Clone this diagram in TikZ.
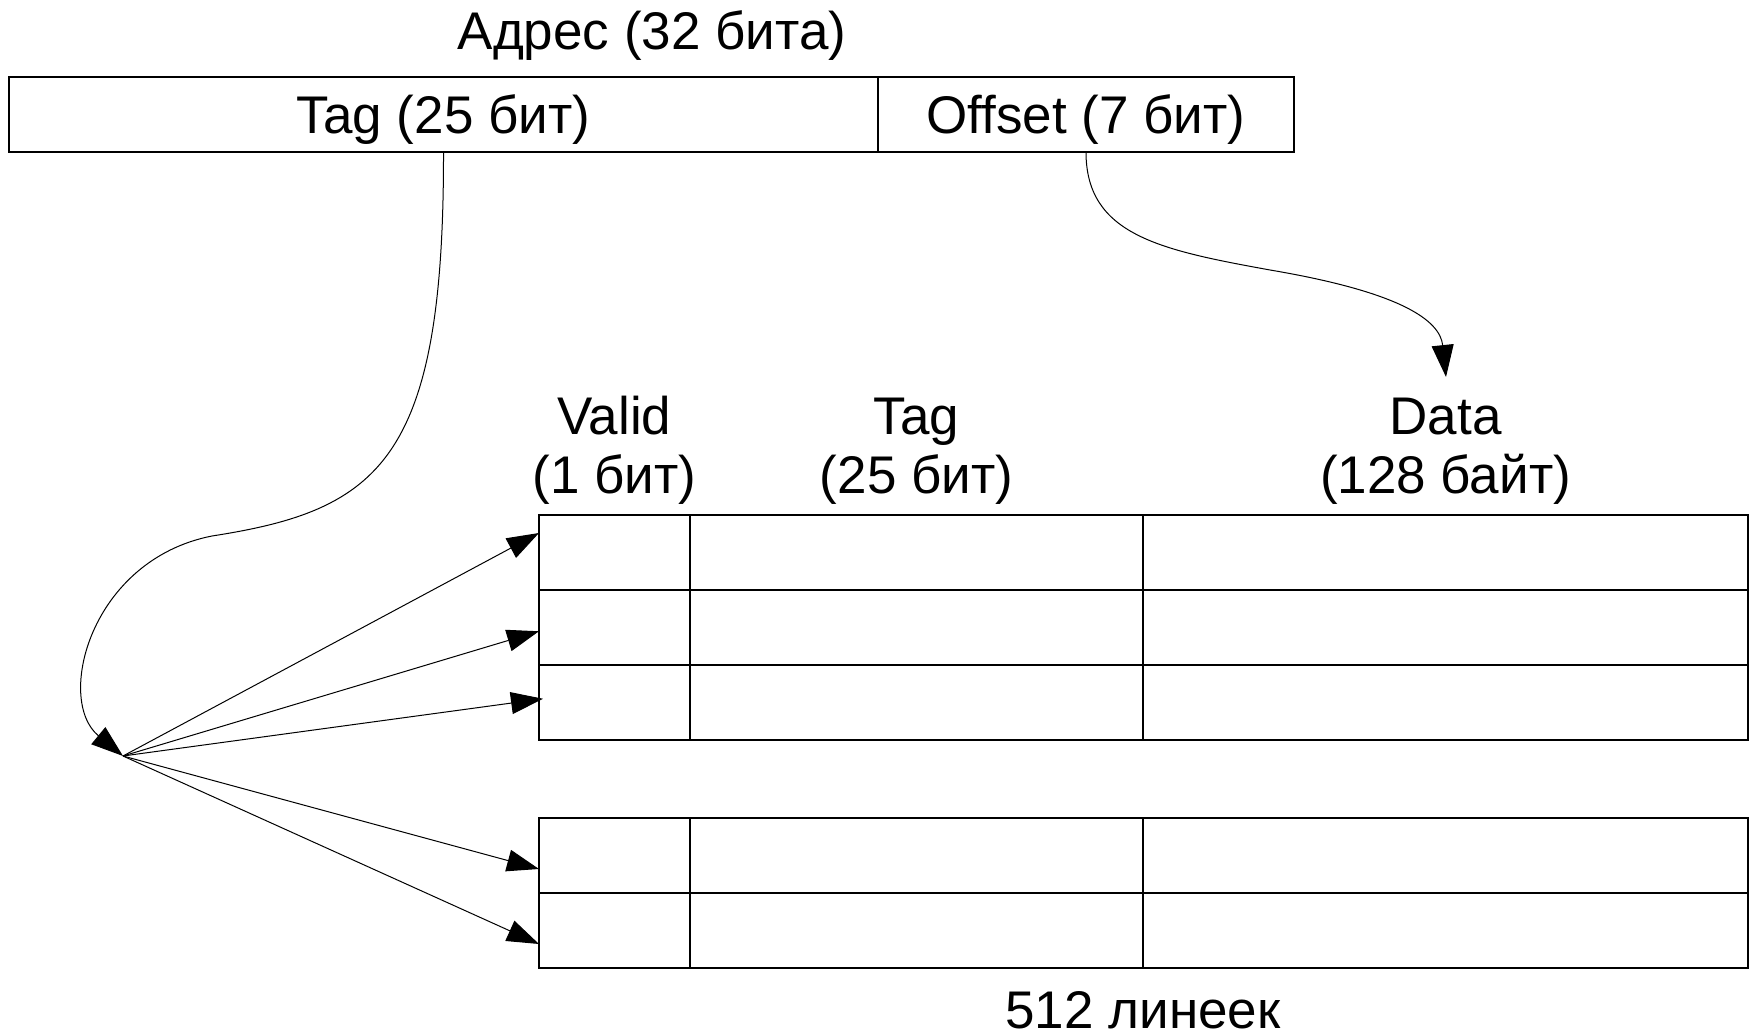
\documentclass[tikz,border=0pt]{standalone}
\usepackage{fontspec}
\setmainfont{Liberation Sans}
\usetikzlibrary{arrows.meta,calc}
\begin{document}
\begin{tikzpicture}[x=0.5pt,y=-0.5pt,
  every node/.style={inner sep=0pt, outer sep=0pt},
  lbl/.style={font=\fontsize{26.5pt}{29.5pt}\selectfont, anchor=base},
  field/.style={draw, line width=0.8pt, minimum height=37.5pt},
  cell/.style={draw, line width=0.8pt, minimum height=37.5pt},
  link/.style={line width=0.5pt, -{Triangle[length=16pt,width=11pt]}},
]
\useasboundingbox (0,0) rectangle (1750,1036);

% address split into tag and offset fields
\node[field, minimum width=434.5pt] (atag) at (443.5,114.5) {};
\node[field, minimum width=208pt] (aoff) at (1086,114.5) {};
\node[lbl] (title) at (652,50) {Адрес (32 бита)};
\node[lbl] (atagt) at (443.5,134) {Tag (25 бит)};
\node[lbl] (aofft) at (1086,134) {Offset (7 бит)};

% cache lines: valid bit, tag, data
\foreach \r/\y in {1/552.5, 2/627.5, 3/702.5, 4/855.5, 5/930.5} {
  \node[cell, minimum width=75.5pt]  (v\r) at (614.5,\y) {};
  \node[cell, minimum width=226.5pt] (t\r) at (916.5,\y) {};
  \node[cell, minimum width=302.5pt] (d\r) at (1445.5,\y) {};
}

% column headers (base anchor sits on the second line)
\node[lbl, align=center] (hv) at (614.5,494) {Valid\\(1 бит)};
\node[lbl, align=center] (ht) at (916.5,494) {Tag\\(25 бит)};
\node[lbl, align=center] (hd) at (1445.5,494) {Data\\(128 байт)};
\node[lbl, text depth=0pt] (cnt) at (1143,1028) {512 линеек};

% tag goes to the comparison point, which fans out to all lines
\coordinate (hub) at (123,756);
\coordinate (dtop) at (1446,377);
\draw[link] (atag.south) .. controls (444,460) and (380,510) .. (212,536)
  .. controls (90,560) and (55,700) .. (hub);
\draw[link] (aoff.south) .. controls (1086,235) and (1160,250) .. (1270,270)
  .. controls (1400,292) and (1440,320) .. (dtop);

\foreach \r/\f in {1/0.24, 2/0.55, 4/0.68, 5/0.68}
  \draw[link] (hub) -- ($(v\r.north west)!\f!(v\r.south west)$);
\draw[link] (hub) -- ($(v3.north west)!0.45!(v3.south west)+(4,0)$);
\end{tikzpicture}
\end{document}
